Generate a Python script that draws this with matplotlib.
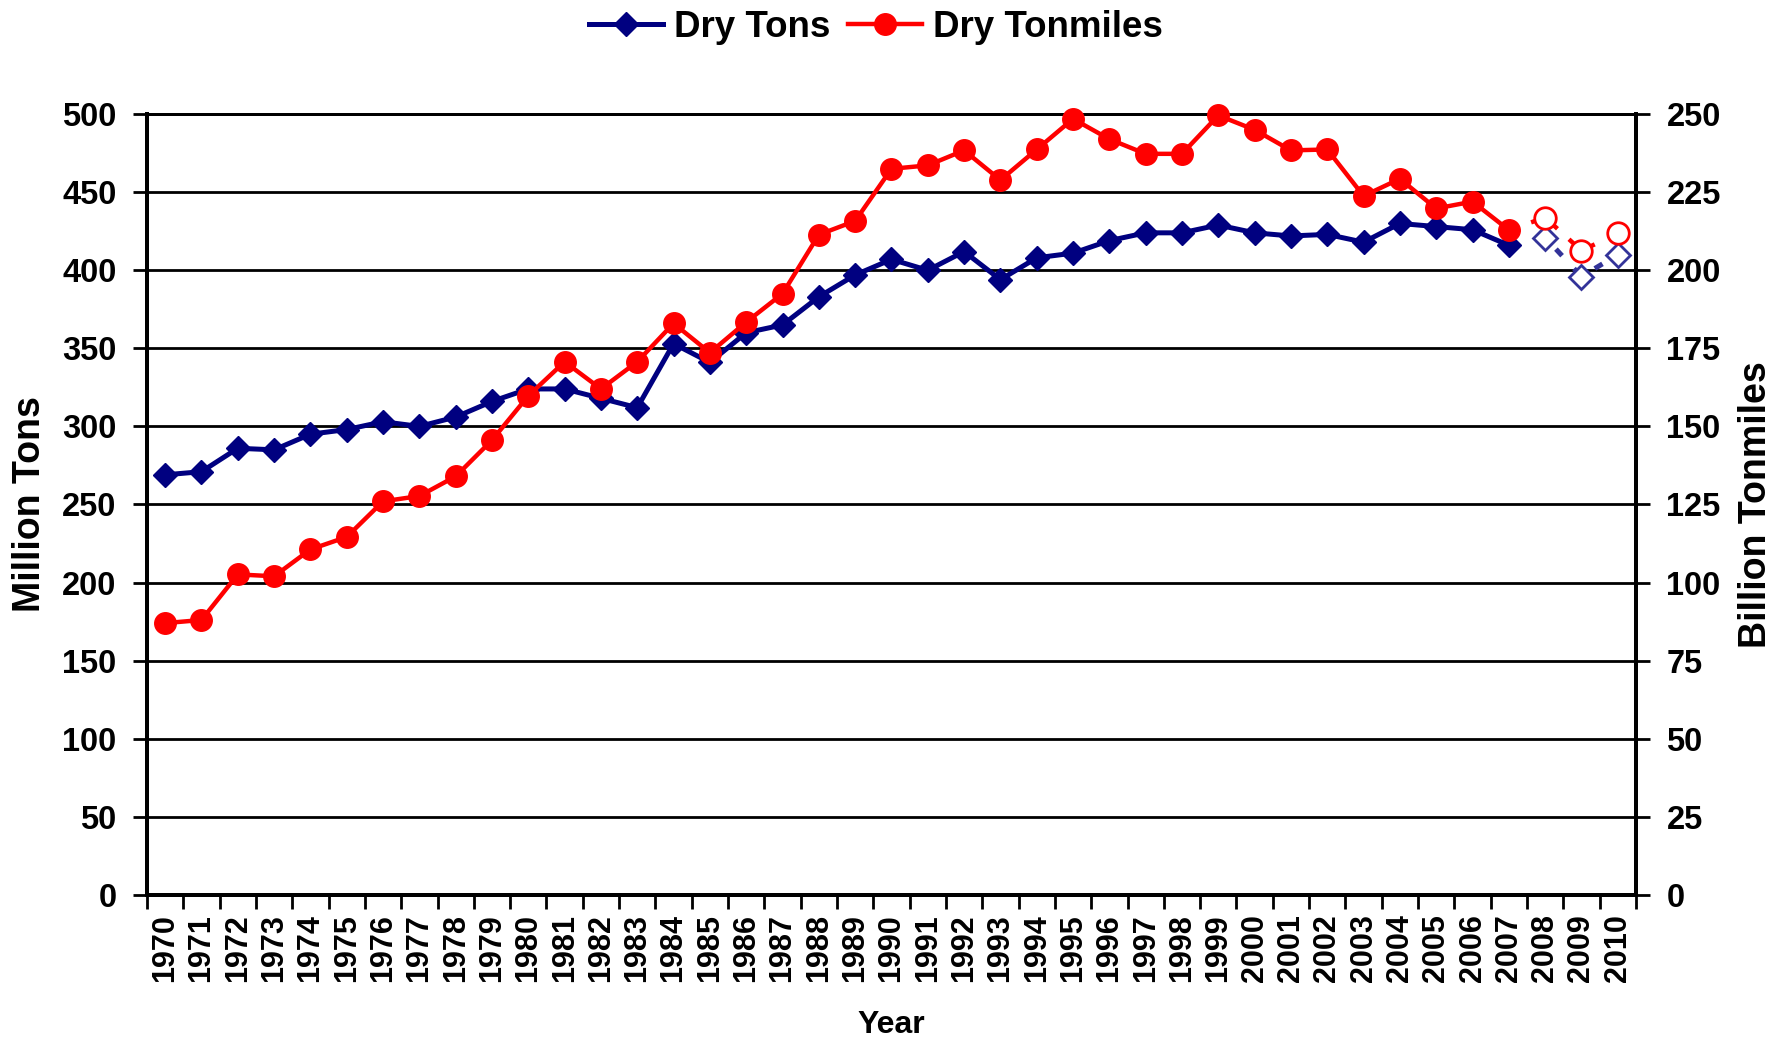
import numpy as np
import matplotlib
matplotlib.use('Agg')
import matplotlib.pyplot as plt
from matplotlib.lines import Line2D

plt.rcParams['font.family'] = ['Liberation Sans', 'DejaVu Sans']
plt.rcParams['font.weight'] = 'bold'

# ── data ──────────────────────────────────────────────
years = list(range(1970, 2011))
# million tons (left axis), 2008-2010 projected
dry_tons = [269, 271, 286, 285, 295, 298, 303, 300, 306, 316,
            324, 324, 318, 312, 353, 341, 360, 365, 383, 397,
            407, 400, 412, 394, 408, 411, 419, 424, 424, 429,
            424, 422, 423, 418, 430, 428, 426, 416, 421, 396, 410]
# billion ton-miles (right axis)
dry_tonmiles = [87, 88, 102.6, 102, 110.6, 114.6, 126, 127.7, 134, 145.6,
                159.8, 170.7, 162, 170.7, 183, 173.6, 183.4, 192.5, 211.4, 215.8,
                232.5, 233.6, 238.4, 228.9, 238.7, 248.5, 242, 237.3, 237.3, 249.6,
                245, 238.4, 238.7, 223.8, 229.3, 219.8, 222, 212.9, 216.9, 206.3, 211.8]
n_actual = 38  # 1970-2007 actual, rest projected

navy = '#000080'
proj_blue = '#333399'
red = '#FF0000'

x = np.arange(len(years))
xa = x[:n_actual]
xp = x[n_actual - 1:]

fig = plt.figure(figsize=(17.84, 10.38), dpi=100)
ax = fig.add_axes([0.0824, 0.138, 0.8346, 0.752])
ax2 = ax.twinx()

# gridlines
for v in range(50, 501, 50):
    ax.axhline(v, color='black', lw=2, zorder=0)

ax.plot(xa, dry_tons[:n_actual], color=navy, lw=3.6, marker='D', ms=12.5,
        zorder=3, clip_on=False)
ax.plot(xp, dry_tons[n_actual - 1:], color=proj_blue, lw=3.6, ls=(0, (1.8, 3.5)),
        zorder=2, clip_on=False)
ax.plot(x[n_actual:], dry_tons[n_actual:], ls='none', marker='D', ms=12.5,
        mfc='white', mec=proj_blue, mew=2, zorder=3, clip_on=False)

ax2.plot(xa, dry_tonmiles[:n_actual], color=red, lw=3.2, marker='o', ms=15.5,
         zorder=3, clip_on=False)
ax2.plot(xp, dry_tonmiles[n_actual - 1:], color=red, lw=3.2, ls=(0, (1.8, 3.5)),
         zorder=2, clip_on=False)
ax2.plot(x[n_actual:], dry_tonmiles[n_actual:], ls='none', marker='o', ms=15.5,
         mfc='white', mec=red, mew=2, zorder=3, clip_on=False)

ax.set_xlim(-0.5, len(years) - 0.5)
ax.set_ylim(0, 500)
ax2.set_ylim(0, 250)

ax.set_yticks(range(0, 501, 50))
ax2.set_yticks(range(0, 251, 25))
ax.set_xticks(np.arange(-0.5, len(years), 1.0))
ax.set_xticklabels([])
ax.set_xticks(x, minor=True)
ax.set_xticklabels([str(y) for y in years], minor=True, rotation=90,
                   fontsize=22, fontweight='bold')
ax.tick_params(axis='x', which='major', direction='out', length=10, width=2)
ax.tick_params(axis='x', which='minor', length=0, pad=14)
ax.tick_params(axis='y', direction='out', length=10, width=2, labelsize=23.5, pad=12)
ax2.tick_params(axis='y', direction='out', length=10, width=2, labelsize=23.5, pad=12)
for lab in ax.get_yticklabels() + ax2.get_yticklabels():
    lab.set_fontweight('bold')

for a in (ax, ax2):
    for s in ('left', 'right', 'bottom'):
        a.spines[s].set_linewidth(2.8)
    a.spines['top'].set_linewidth(2)

ax.set_xlabel('Year', fontsize=23, fontweight='bold', labelpad=20)
ax.set_ylabel('Million Tons', fontsize=27, fontweight='bold', labelpad=10)
ax2.set_ylabel('Billion Tonmiles', fontsize=27, fontweight='bold', labelpad=12)

handles = [Line2D([], [], color=navy, lw=3.6, marker='D', ms=12.5),
           Line2D([], [], color=red, lw=3.2, marker='o', ms=15.5)]
fig.legend(handles, ['Dry Tons', 'Dry Tonmiles'], loc='upper center',
           bbox_to_anchor=(0.491, 1.022), ncol=2, frameon=False,
           prop={'size': 26.5, 'weight': 'bold'}, handlelength=2.0,
           handletextpad=0.3, columnspacing=0.5)

fig.savefig('out.png', dpi=100)
